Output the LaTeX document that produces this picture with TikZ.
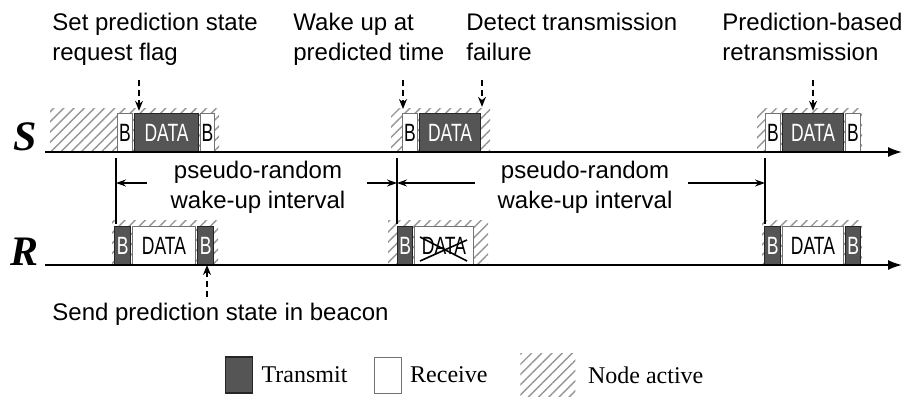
\documentclass[tikz,border=0pt]{standalone}
\usepackage{fontspec}
\setmainfont{Liberation Sans}
\newfontfamily\legfont{Liberation Serif}
\newfontfamily\boxfont[FakeStretch=0.7]{Liberation Sans}
\usetikzlibrary{arrows.meta,patterns.meta,calc,positioning}
\definecolor{txgray}{HTML}{555555}
\definecolor{hatchgray}{HTML}{959595}

\begin{document}
\begin{tikzpicture}[
    x=0.5pt, y=-0.5pt,
    font=\fontsize{12}{15}\selectfont,
    lbl/.style={inner sep=0pt, align=left, anchor=north west},
    tx/.style={draw=black!85, fill=txgray, text=white, line width=0.6pt, inner sep=0pt, anchor=south west, font=\boxfont\fontsize{12.5}{12.5}\selectfont, minimum height=19pt},
    rx/.style={draw=black!55, fill=white, text=black, line width=0.5pt, inner sep=0pt, anchor=south west, font=\boxfont\fontsize{12.5}{12.5}\selectfont, minimum height=19pt},
    bw/.style={minimum width=#1*0.5pt},
    active/.style={pattern={Lines[angle=45,distance=3.6pt,line width=0.7pt]}, pattern color=hatchgray},
    ann/.style={densely dashed, line width=0.6pt, -{Stealth[length=5pt,width=4pt]}},
    intv/.style={line width=0.6pt, -{Stealth[length=5pt,width=3.5pt]}},
    axis/.style={line width=0.8pt, -{Latex[length=7pt,width=5pt]}},
    tl/.style={font=\legfont\fontsize{21}{21}\selectfont\bfseries\itshape},
    leg/.style={font=\legfont\fontsize{12}{14}\selectfont, inner sep=0pt}
]
\useasboundingbox (0,0) rectangle (915,396);

% node active periods
\fill[active] (50,108) rectangle (219,152);
\fill[active] (391,108) rectangle (490,152);
\fill[active] (757,108) rectangle (862,152);
\fill[active] (112,220) rectangle (218,265);
\fill[active] (388,220) rectangle (488,265);
\fill[active] (762,220) rectangle (862,265);

% sender
\node[rx, bw=15] (s1b) at (117,152) {B};
\node[tx, bw=64] (s1d) at (134,152) {DATA};
\node[rx, bw=14] (s1e) at (200,152) {B};
\node[rx, bw=15] (s2b) at (402,152) {B};
\node[tx, bw=61] (s2d) at (419,152) {DATA};
\node[rx, bw=15] (s3b) at (765,152) {B};
\node[tx, bw=61] (s3d) at (782,152) {DATA};
\node[rx, bw=15] (s3e) at (845,152) {B};

% receiver
\node[tx, bw=16] (r1b) at (114,265) {B};
\node[rx, bw=63] (r1d) at (132,265) {DATA};
\node[tx, bw=16] (r1e) at (197,265) {B};
\node[tx, bw=15] (r2b) at (397,265) {B};
\node[rx, bw=59] (r2d) at (414,265) {DATA};
\node[tx, bw=16] (r3b) at (764,265) {B};
\node[rx, bw=61] (r3d) at (782,265) {DATA};
\node[tx, bw=15] (r3e) at (845,265) {B};
\draw[line width=0.8pt] ($(r2d.north west)+(6,11)$) -- ($(r2d.south east)+(-7,-4)$);
\draw[line width=0.8pt] ($(r2d.south west)+(6,-4)$) -- ($(r2d.north east)+(-7,14)$);

% time lines
\node[tl] (slbl) at (25,137) {S};
\node[tl] (rlbl) at (25,252) {R};
\coordinate (s0) at (45,152); \coordinate (s1) at (902,152);
\coordinate (r0) at (45,265); \coordinate (r1) at (902,265);
\draw[axis] (s0) -- (s1);
\draw[axis] (r0) -- (r1);

% wake-up intervals
\foreach \t/\x in {t1/116, t2/397, t3/765}
  \draw[line width=0.6pt] (\x,158) coordinate (\t) -- ++(0,66);
\node[align=center] (iv1) at (258,187) {pseudo-random\\wake-up interval};
\node[align=center] (iv2) at (585,187) {pseudo-random\\wake-up interval};
\coordinate (a1) at (147,183); \coordinate (a2) at (367,183);
\coordinate (a3) at (475,183); \coordinate (a4) at (688,183);
\foreach \a/\t in {a1/t1, a2/t2, a3/t2, a4/t3}
  \draw[intv] (\a) -- (\a -| \t);

% annotations
\node[lbl] (setflag) at (52,13) {Set prediction state\\request flag};
\node[lbl] (wakeup) at (293,13) {Wake up at\\predicted time};
\node[lbl] (detect) at (466,13) {Detect transmission\\failure};
\node[lbl] (retrans) at (722,13) {Prediction-based\\retransmission};
\node[lbl] (sendstate) at (52,303) {Send prediction state in beacon};
\coordinate (q1) at (139,80); \coordinate (q2) at (403,80);
\coordinate (q3) at (482,80); \coordinate (q4) at (813,80);
\coordinate (q5) at (207,297);
\draw[ann, shorten >=1pt] (q1) -- (q1 |- s1d.north);
\draw[ann, shorten >=2pt] (q2) -- (q2 |- s2b.north);
\draw[ann, shorten >=3pt] (q3) -- (q3 |- s2d.north);
\draw[ann, shorten >=1pt] (q4) -- (q4 |- s3d.north);
\draw[ann] (q5) -- (q5 |- r1e.south);

% legend
\node[tx, bw=27, minimum height=18pt, anchor=west] (legtx) at (225,375) {};
\node[leg, right=4pt of legtx] (legtxt) {Transmit};
\node[rx, bw=27, minimum height=18pt, right=13pt of legtxt] (legrx) {};
\node[leg, right=4pt of legrx] (legrxt) {Receive};
\node[active, minimum width=27.5pt, minimum height=22pt, inner sep=0pt, right=16pt of legrxt] (legact) {};
\node[leg, right=6pt of legact] (legactt) {Node active};
\end{tikzpicture}
\end{document}
